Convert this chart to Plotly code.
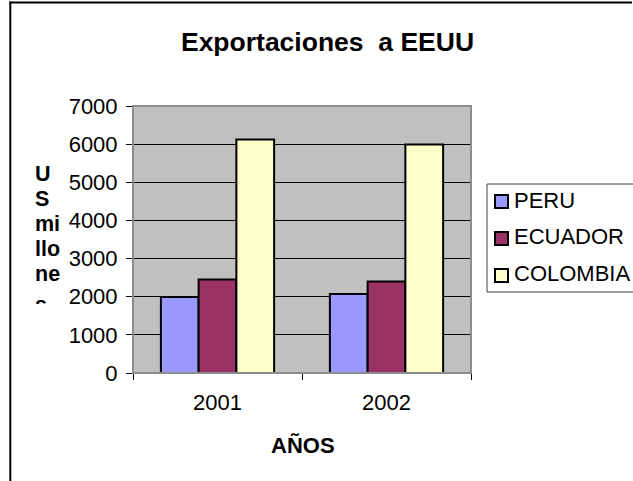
import plotly.graph_objects as go

# ---- data ----
years = ["2001", "2002"]
series_names = ["PERU", "ECUADOR", "COLOMBIA"]
peru = [1990, 2070]
ecuador = [2450, 2400]
colombia = [6120, 5990]
series_values = [peru, ecuador, colombia]
series_colors = ["#9999FF", "#993366", "#FFFFCC"]
y_tick_vals = [0, 1000, 2000, 3000, 4000, 5000, 6000, 7000]
title_text = "Exportaciones  a EEUU"
x_title = "AÑOS"
y_title_lines = ["U", "S", "mi", "llo", "ne", "s"]

FONT = "Liberation Sans, Arial, sans-serif"
W, H = 633, 481
L, R, T, B = 133, 471, 106, 373  # plot area in pixels


def px(x):
    return (x - L) / (R - L)


def py(y):
    return (B - y) / (B - T)


fig = go.Figure()
for name, vals, col in zip(series_names, series_values, series_colors):
    fig.add_trace(go.Bar(
        x=years, y=vals, name=name,
        marker=dict(color=col, line=dict(color="black", width=2)),
        showlegend=False,
    ))

shapes = []
annotations = []

# outer chart border (left + top visible, rest cropped)
shapes.append(dict(type="line", xref="paper", yref="paper",
                   x0=px(10.3), x1=px(10.3), y0=py(481), y1=py(1.5),
                   line=dict(color="black", width=2), layer="above"))
for xa, xb in [(9.3, 200), (200, 420), (420, 632)]:
    shapes.append(dict(type="line", xref="paper", yref="paper",
                       x0=px(xa), x1=px(xb), y0=py(2.5), y1=py(2.5),
                       line=dict(color="black", width=2), layer="above"))
# plot-area border (grey)
shapes.append(dict(type="rect", xref="paper", yref="paper", x0=0, x1=1, y0=0, y1=1,
                   line=dict(color="#8C8C8C", width=2), layer="above"))

# custom legend
shapes.append(dict(type="rect", xref="paper", yref="paper",
                   x0=px(487), x1=px(670), y0=py(292), y1=py(184),
                   line=dict(color="#404040", width=1), fillcolor="white"))
for i, (name, col) in enumerate(zip(series_names, series_colors)):
    cy = 201.5 + i * 37
    shapes.append(dict(type="rect", xref="paper", yref="paper",
                       x0=px(495), x1=px(508), y0=py(cy + 6.5), y1=py(cy - 6.5),
                       line=dict(color="black", width=2), fillcolor=col))
    annotations.append(dict(text=name, xref="paper", yref="paper",
                            x=px(512), y=py(200.5 + i * 36.3),
                            xanchor="left", yanchor="middle", showarrow=False,
                            font=dict(family=FONT, size=22, color="black")))

# x axis title
annotations.append(dict(text="<b>%s</b>" % x_title, xref="paper", yref="paper",
                        x=px(303), y=py(445), xanchor="center", yanchor="middle",
                        showarrow=False, font=dict(family=FONT, size=22, color="black")))

# y axis title (wrapped, clipped)
for i, line in enumerate(y_title_lines[:-1]):
    annotations.append(dict(text="<b>%s</b>" % line, xref="paper", yref="paper",
                            x=px(34), y=py(187 + i * 25), xanchor="left", yanchor="bottom",
                            showarrow=False, borderpad=0,
                            font=dict(family=FONT, size=21.5, color="black")))
annotations.append(dict(text="<b>%s</b>" % y_title_lines[-1], xref="paper", yref="paper",
                        x=px(34), y=py(292), xanchor="left", yanchor="top",
                        height=11, valign="top", showarrow=False, borderpad=0,
                        font=dict(family=FONT, size=21.5, color="black")))

fig.update_layout(
    width=W, height=H,
    margin=dict(l=L, r=W - R, t=T, b=H - B, autoexpand=False),
    paper_bgcolor="white", plot_bgcolor="#C0C0C0",
    barmode="group", bargap=0.33, bargroupgap=0,
    title=dict(text="<b>%s</b>" % title_text, x=327.5 / W, y=1 - 41.7 / H,
               xanchor="center", yanchor="middle",
               font=dict(family=FONT, size=26.5, color="black")),
    font=dict(family=FONT, color="black"),
    shapes=shapes, annotations=annotations,
    xaxis=dict(type="category", showgrid=False, zeroline=False,
               showline=True, linecolor="black", linewidth=1,
               ticks="outside", tickson="boundaries", ticklen=6, tickcolor="black",
               tickfont=dict(family=FONT, size=22, color="black"),
               ticklabelstandoff=10),
    yaxis=dict(range=[0, 7000], tickvals=y_tick_vals, showgrid=True,
               gridcolor="black", gridwidth=1, zeroline=False,
               showline=True, linecolor="black", linewidth=1,
               ticks="outside", ticklen=6, tickcolor="black",
               tickfont=dict(family=FONT, size=22, color="black"),
               ticklabelstandoff=4),
)

# remove the default page margin so the figure sits at the window's top-left corner
fig.write_html("out.html",
               config=dict(displayModeBar=False),
               post_script="document.body.style.margin='0';document.body.style.overflow='hidden';"
                           "window.scrollTo(0,0);")
